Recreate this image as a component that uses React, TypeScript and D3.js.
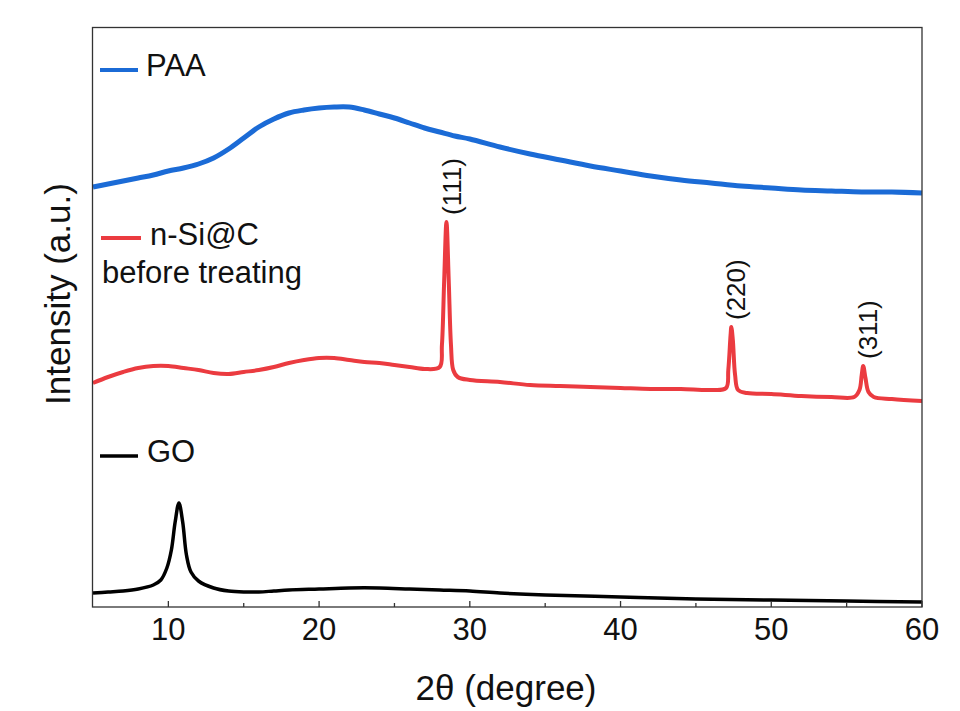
import { useMemo } from 'react';
import * as d3 from 'd3';

// 2θ positions (degree) and intensities (a.u.)
const paaTheta = [5, 6, 7, 8, 9, 10, 11, 12, 13, 14, 15, 16, 17, 18, 19, 20, 21, 22, 23, 24, 25, 26, 27, 28, 29, 30, 32, 34, 36, 38, 40, 42, 44, 46, 48, 50, 52, 54, 56, 58, 60];
const paaValues = [420, 423, 426, 429, 432, 436, 439, 443, 449, 458, 469, 480, 488, 494, 497, 499, 500, 500, 497, 493, 489, 484, 479, 475, 471, 468, 460, 453, 447, 441, 436, 431, 427, 424, 421, 419, 417, 416, 415, 415, 414];

const siTheta = [5, 6, 7, 8, 9, 10, 11, 12, 13, 14, 15, 16, 17, 18, 19, 20, 21, 22, 23, 24, 25, 26, 27, 28, 28.15, 28.3, 28.45, 28.6, 28.75, 28.9, 29.2, 30, 32, 34, 36, 38, 40, 42, 44, 46, 47, 47.15, 47.3, 47.35, 47.45, 47.6, 47.8, 48.4, 50, 52, 54, 55.5, 55.85, 56, 56.1, 56.25, 56.45, 56.8, 58, 60];
const siValues = [224, 230, 235, 239, 241, 241, 239, 237, 234, 233, 235, 237, 240, 244, 247, 249, 249, 247, 245, 244, 242, 240, 238, 240, 262, 327, 385, 327, 262, 237, 230, 227, 225, 222, 221, 220, 219, 218, 218, 217, 219, 237, 272, 280, 267, 232, 217, 214, 213, 211, 210, 210, 217, 232, 241, 229, 215, 210, 208, 206];

const goTheta = [5, 6, 7, 8, 9, 9.5, 9.9, 10.2, 10.45, 10.7, 10.95, 11.2, 11.5, 12, 13, 14, 15, 16, 17, 18, 20, 22, 24, 26, 28, 30, 32, 35, 40, 45, 50, 55, 60];
const goValues = [14, 15, 16, 18, 22, 27, 39, 57, 85, 104, 85, 52, 35, 26, 19, 16, 15, 15, 16, 17, 18, 19, 19, 18, 17, 16, 14, 12, 10, 8, 7, 6, 5];

const xTicks = [10, 20, 30, 40, 50, 60];
const xMinorTicks = [15, 25, 35, 45, 55];

const peakLabels = ['(111)', '(220)', '(311)'];
const peakTheta = [28.45, 47.35, 56.1];

const W = 960;
const H = 711;
const font = '"Liberation Sans", Arial, sans-serif';

export default function App() {
  const x = d3.scaleLinear().domain([5, 60]).range([93, 922]);
  const y = d3.scaleLinear().domain([0, 580]).range([607, 27]);

  const line = d3
    .line<[number, number]>()
    .x((d) => x(d[0]))
    .y((d) => y(d[1]))
    .curve(d3.curveCatmullRom.alpha(0.5));

  const series = useMemo(
    () => [
      { name: 'PAA', color: '#1b6bd6', width: 5, pts: paaTheta.map((t, i) => [t, paaValues[i]] as [number, number]) },
      { name: 'n-Si@C', color: '#eb3b40', width: 4, pts: siTheta.map((t, i) => [t, siValues[i]] as [number, number]) },
      { name: 'GO', color: '#000000', width: 3.5, pts: goTheta.map((t, i) => [t, goValues[i]] as [number, number]) },
    ],
    []
  );

  const peakVal = (t: number) => siValues[siTheta.indexOf(t)];

  return (
    <svg width={W} height={H} style={{ position: 'absolute', left: 0, top: 0, background: '#fff' }}>
      <rect x={0} y={0} width={W} height={H} fill="#fff" />

      {series.map((s) => (
        <path key={s.name} d={line(s.pts) || ''} fill="none" stroke={s.color} strokeWidth={s.width} strokeLinejoin="round" />
      ))}

      {/* frame */}
      <rect x={92.5} y={27.5} width={829.5} height={579.5} fill="none" stroke="#333" strokeWidth={1.3} />

      {/* x ticks (inward) */}
      {xTicks.map((t) => (
        <line key={'M' + t} x1={x(t)} x2={x(t)} y1={607} y2={601} stroke="#333" strokeWidth={1.3} />
      ))}
      {xMinorTicks.map((t) => (
        <line key={'m' + t} x1={x(t)} x2={x(t)} y1={607} y2={603} stroke="#333" strokeWidth={1.3} />
      ))}
      {xTicks.map((t) => (
        <text key={'l' + t} x={x(t)} y={640} textAnchor="middle" fontFamily={font} fontSize={31} fill="#111">
          {t}
        </text>
      ))}

      {/* axis titles */}
      <text x={506} y={700} textAnchor="middle" fontFamily={font} fontSize={35} fill="#111">
        2θ (degree)
      </text>
      <text
        transform="translate(58,294) rotate(-90)"
        textAnchor="middle"
        dy="0.35em"
        fontFamily={font}
        fontSize={35}
        fill="#111"
      >
        Intensity (a.u.)
      </text>

      {/* peak labels */}
      {peakLabels.map((lab, i) => (
        <text
          key={lab}
          transform={`translate(${x(peakTheta[i]) + 5},${y(peakVal(peakTheta[i])) - 7}) rotate(-90)`}
          dy="0.35em"
          fontFamily={font}
          fontSize={26}
          fill="#111"
        >
          {lab}
        </text>
      ))}

      {/* legends */}
      <line x1={100} x2={138} y1={70} y2={70} stroke="#1b6bd6" strokeWidth={4} />
      <text x={146} y={76} fontFamily={font} fontSize={31} fill="#111">PAA</text>

      <line x1={101} x2={141} y1={238} y2={238} stroke="#eb3b40" strokeWidth={4} />
      <text x={150} y={245} fontFamily={font} fontSize={31} fill="#111">n-Si@C</text>
      <text x={102} y={283} fontFamily={font} fontSize={31} fill="#111">before treating</text>

      <line x1={100} x2={138} y1={456} y2={456} stroke="#000" strokeWidth={3.5} />
      <text x={147} y={462} fontFamily={font} fontSize={31} fill="#111">GO</text>
    </svg>
  );
}
